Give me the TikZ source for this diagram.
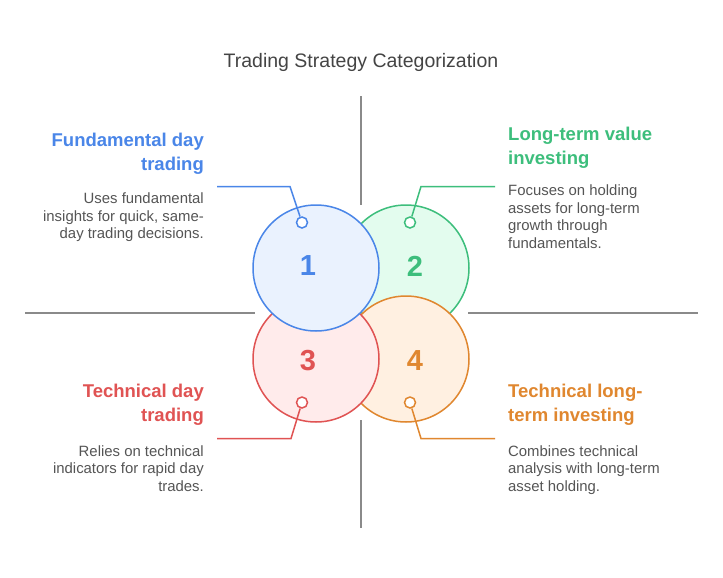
\documentclass[tikz,border=0pt]{standalone}
\usepackage{fontspec}
\setmainfont{Liberation Sans}
\definecolor{cblue}{HTML}{4A86E8}
\definecolor{cgreen}{HTML}{3DBE7C}
\definecolor{cred}{HTML}{E05353}
\definecolor{corange}{HTML}{E0872F}
\definecolor{fblue}{HTML}{EAF2FE}
\definecolor{fgreen}{HTML}{E3FCEE}
\definecolor{fred}{HTML}{FFEBEB}
\definecolor{forange}{HTML}{FFF0E1}
\definecolor{axisgray}{HTML}{8A8A8A}
\definecolor{txtgray}{HTML}{555555}
\definecolor{headgray}{HTML}{444444}
\begin{document}
\begin{tikzpicture}[x=1pt,y=-1pt,
  bigc/.style={circle,draw=#1,line width=1.5pt,minimum size=126pt,inner sep=0pt},
  pinc/.style={circle,draw=#1,fill=white,line width=1.5pt,minimum size=11pt,inner sep=0pt},
  lead/.style={draw=#1,line width=1.5pt},
  axisline/.style={draw=axisgray,line width=1.5pt},
  numtxt/.style={text=#1,font=\fontsize{29}{29}\selectfont\bfseries,inner sep=0pt},
  headR/.style={anchor=base east,inner sep=0pt,text=#1,font=\fontsize{18.5}{18.5}\selectfont\bfseries},
  headL/.style={anchor=base west,inner sep=0pt,text=#1,font=\fontsize{18.5}{18.5}\selectfont\bfseries},
  descR/.style={anchor=base east,inner sep=0pt,text=txtgray,font=\fontsize{14.9}{14.9}\selectfont},
  descL/.style={anchor=base west,inner sep=0pt,text=txtgray,font=\fontsize{14.9}{14.9}\selectfont}]
\useasboundingbox[fill=white] (0,0) rectangle (723,578);
% title
\node[anchor=base,inner sep=0pt,text=headgray,font=\fontsize{19.5}{19.5}\selectfont] (title) at (361,67) {Trading Strategy Categorization};
% axes
\coordinate (vt1) at (361,96); \coordinate (vt2) at (361,205);
\coordinate (vb1) at (361,420); \coordinate (vb2) at (361,528);
\coordinate (hl1) at (25,313); \coordinate (hl2) at (255,313);
\coordinate (hr1) at (468,313); \coordinate (hr2) at (698,313);
\draw[axisline] (vt1) -- (vt2);
\draw[axisline] (vb1) -- (vb2);
\draw[axisline] (hl1) -- (hl2);
\draw[axisline] (hr1) -- (hr2);
% big circles
\node[bigc=cgreen,fill=fgreen] (c2) at (406,268) {};
\node[bigc=corange,fill=forange] (c4) at (406,359) {};
\node[bigc=cred,fill=fred] (c3) at (316,359) {};
\node[bigc=cblue,fill=fblue] (c1) at (316,268) {};
\node[numtxt=cblue] (n1) at (308,266) {1};
\node[numtxt=cgreen] (n2) at (415,266) {2};
\node[numtxt=cred] (n3) at (308,361) {3};
\node[numtxt=corange] (n4) at (415,361) {4};
% leaders
\coordinate (b1) at (290,186.5); \coordinate (e1) at (217,186.5);
\coordinate (b2) at (421,186.5); \coordinate (e2) at (495,186.5);
\coordinate (b3) at (291,438.5); \coordinate (e3) at (217,438.5);
\coordinate (b4) at (421,438.5); \coordinate (e4) at (495,438.5);
\node[pinc=cblue] (p1) at (302,222.5) {};
\node[pinc=cgreen] (p2) at (410,222.5) {};
\node[pinc=cred] (p3) at (302,402.5) {};
\node[pinc=corange] (p4) at (410,402.5) {};
\draw[lead=cblue] (p1) -- (b1) -- (e1);
\draw[lead=cgreen] (p2) -- (b2) -- (e2);
\draw[lead=cred] (p3) -- (b3) -- (e3);
\draw[lead=corange] (p4) -- (b4) -- (e4);
% texts top-left
\node[headR=cblue] (h1a) at (204,146) {Fundamental day};
\node[headR=cblue] (h1b) at (204,170) {trading};
\node[descR] (d1a) at (204,203.5) {Uses fundamental};
\node[descR] (d1b) at (204,221) {insights for quick, same-};
\node[descR] (d1c) at (204,238.5) {day trading decisions.};
% top-right
\node[headL=cgreen] (h2a) at (508,140) {Long-term value};
\node[headL=cgreen] (h2b) at (508,164) {investing};
\node[descL] (d2a) at (508,195) {Focuses on holding};
\node[descL] (d2b) at (508,213) {assets for long-term};
\node[descL] (d2c) at (508,230.5) {growth through};
\node[descL] (d2d) at (508,248) {fundamentals.};
% bottom-left
\node[headR=cred] (h3a) at (204,397) {Technical day};
\node[headR=cred] (h3b) at (204,421) {trading};
\node[descR] (d3a) at (204,456) {Relies on technical};
\node[descR] (d3b) at (204,473.5) {indicators for rapid day};
\node[descR] (d3c) at (204,491) {trades.};
% bottom-right
\node[headL=corange] (h4a) at (508,397) {Technical long-};
\node[headL=corange] (h4b) at (508,421) {term investing};
\node[descL] (d4a) at (508,456) {Combines technical};
\node[descL] (d4b) at (508,473.5) {analysis with long-term};
\node[descL] (d4c) at (508,491) {asset holding.};
\end{tikzpicture}
\end{document}
